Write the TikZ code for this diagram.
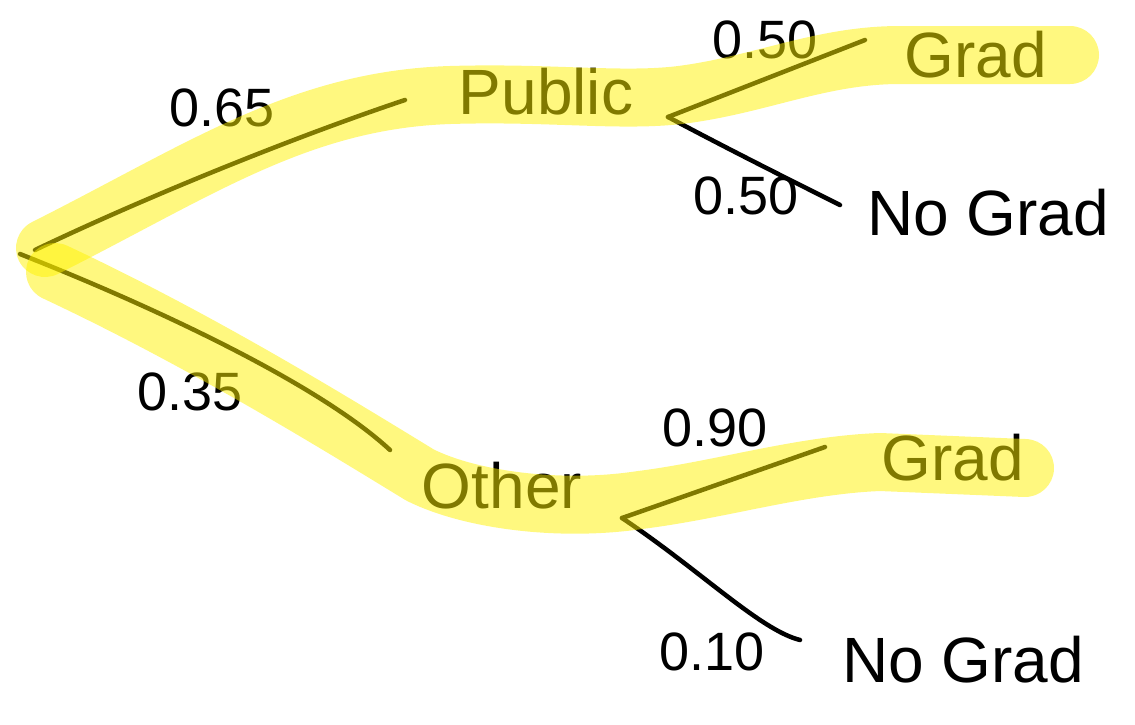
\documentclass[tikz,border=0pt]{standalone}
\usepackage{fontspec}
\setmainfont{Liberation Sans}
\begin{document}
\begin{tikzpicture}[x=1pt,y=-1pt,
  lbl/.style={font=\fontsize{64}{64}\selectfont, inner sep=0pt},
  prob/.style={font=\fontsize{54}{54}\selectfont, inner sep=0pt},
  branch/.style={line width=4.5pt, line cap=round, line join=round},
  hl/.style={line width=58pt, line cap=round, line join=round, draw=yellow, draw opacity=0.5}]
\useasboundingbox (0,0) rectangle (1135,724);
% labels
\node[lbl] (public) at (546,92) {Public};
\node[lbl] (g1) at (976,55) {Grad};
\node[lbl] (ng1) at (988,213) {No Grad};
\node[lbl] (other) at (502,486) {Other};
\node[lbl] (g2) at (953,458) {Grad};
\node[lbl] (ng2) at (963,660) {No Grad};
% probabilities
\node[prob] (p1) at (222,108) {0.65};
\node[prob] (p2) at (765,40) {0.50};
\node[prob] (p3) at (746,196) {0.50};
\node[prob] (p4) at (190,392) {0.35};
\node[prob] (p5) at (715,428) {0.90};
\node[prob] (p6) at (712,652) {0.10};
% connection points
\coordinate (root) at (20,254);
\coordinate (rootu) at (35,250);
\coordinate (rootd) at (35,260);
\coordinate (pubin) at (405,100);
\coordinate (pubout) at (668,117);
\coordinate (g1in) at (865,40);
\coordinate (ng1in) at (840,205);
\coordinate (othin) at (390,450);
\coordinate (othout) at (622,518);
\coordinate (g2in) at (825,447);
\coordinate (ng2in) at (800,640);
% branches
\draw[branch] (root) -- (rootd);
\draw[branch] (rootu) .. controls (150,195) and (300,135) .. (pubin);
\draw[branch] (rootd) .. controls (160,310) and (320,385) .. (othin);
\draw[branch] (pubout) -- (g1in);
\draw[branch] (pubout) .. controls (730,150) and (790,180) .. (ng1in);
\draw[branch] (othout) -- (g2in);
\draw[branch] (othout) .. controls (700,570) and (760,630) .. (ng2in);
% highlighter strokes
\draw[hl] (45,248) .. controls (200,170) and (300,100) .. (450,95)
  .. controls (550,92) and (620,102) .. (680,95)
  .. controls (760,85) and (820,55) .. (900,55) -- (1070,55);
\draw[hl] (55,272) .. controls (200,340) and (330,420) .. (420,475)
  .. controls (470,500) and (560,512) .. (640,500)
  .. controls (720,490) and (800,465) .. (880,462) -- (1025,468);
\end{tikzpicture}
\end{document}
